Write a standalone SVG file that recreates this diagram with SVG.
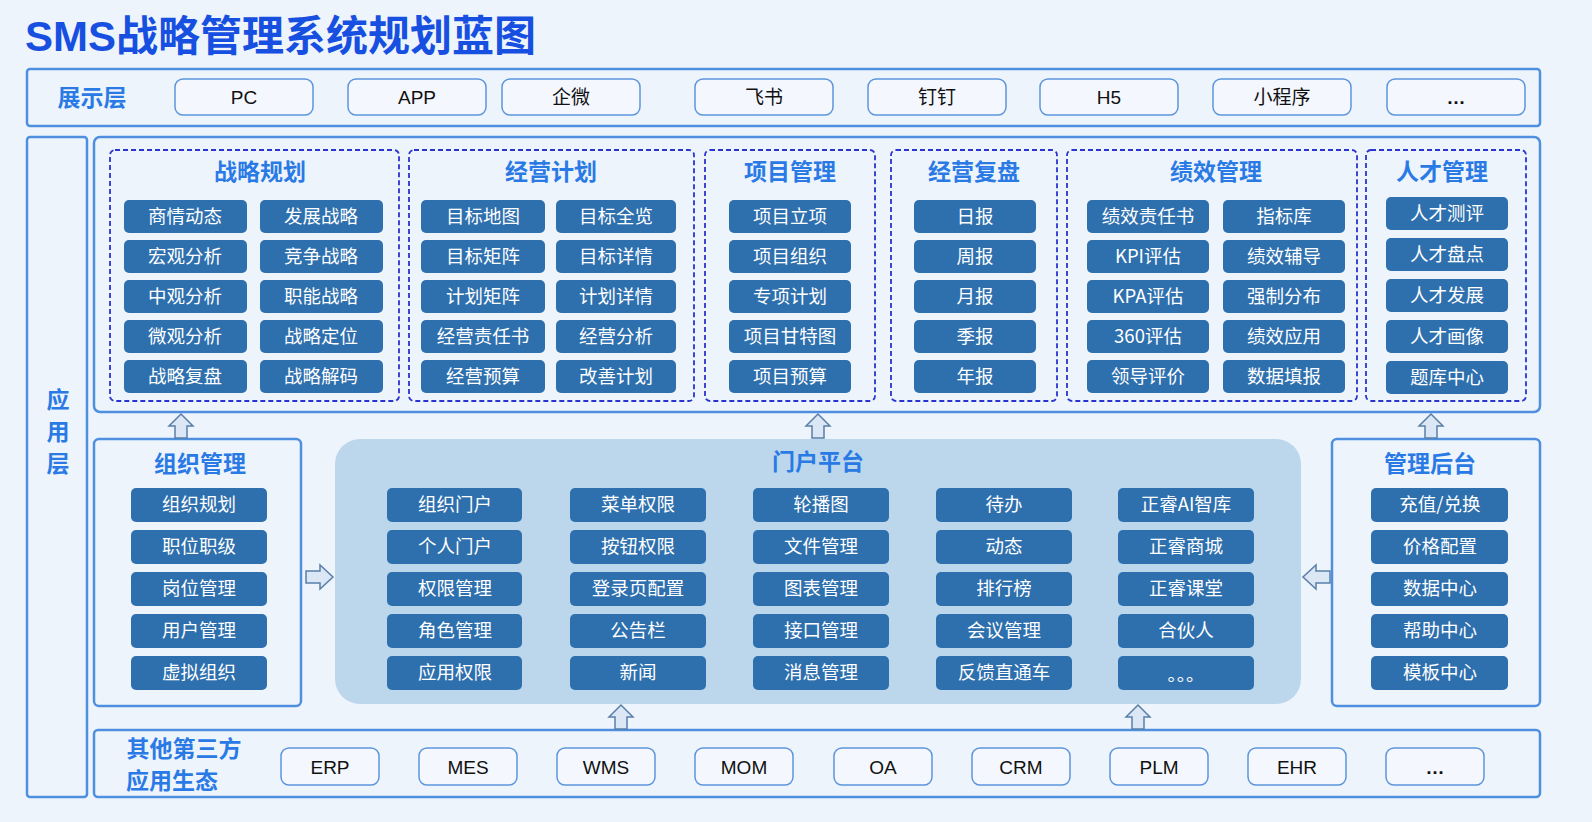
<svg xmlns="http://www.w3.org/2000/svg" width="1592" height="822" viewBox="0 0 1592 822">
<style>
text{font-family:"Noto Sans CJK SC","Liberation Sans",sans-serif}
.frame{fill:none;stroke:#4f8fe0;stroke-width:2.5}
.pill{fill:#f4f8fe;stroke:#5b95dc;stroke-width:1.5}
.pt{font-size:19px;fill:#111;text-anchor:middle;font-family:"Liberation Sans","Noto Sans CJK SC",sans-serif}
.dash{fill:none;stroke:#2a35d0;stroke-width:1.8;stroke-dasharray:5 3}
.gt{font-size:23px;font-weight:bold;fill:#2a7ae6;text-anchor:middle}
.it{fill:#2e6fae}
.itt{font-size:18.5px;fill:#fff;text-anchor:middle}
.arr{fill:#dbe7f5;stroke:#5a7fa8;stroke-width:1.5}
</style>
<defs>
<path id="up" d="M-6,12 V0 H-12 L0,-12 L12,0 H6 V12 Z" class="arr"/>
<path id="right" d="M-14,-6 H0 V-12 L13,0 L0,12 V6 H-14 Z" class="arr"/>
</defs>
<rect width="1592" height="822" fill="#eef4fc"/>
<text x="25" y="51" font-size="42" font-weight="bold" fill="#1750e0" style="font-family:'Liberation Sans','Noto Sans CJK SC',sans-serif">SMS战略管理系统规划蓝图</text>

<g id="display-layer">
<rect x="27" y="69" width="1513" height="57" rx="3" class="frame"/>
<text x="92" y="106" font-size="23" font-weight="bold" fill="#2a7ae6" text-anchor="middle">展示层</text>
<g transform="translate(0,79)">
<rect x="175" width="138" height="36" rx="8" class="pill"/><text x="244" y="25" class="pt">PC</text>
<rect x="348" width="138" height="36" rx="8" class="pill"/><text x="417" y="25" class="pt">APP</text>
<rect x="502" width="138" height="36" rx="8" class="pill"/><text x="571" y="25" class="pt">企微</text>
<rect x="695" width="138" height="36" rx="8" class="pill"/><text x="764" y="25" class="pt">飞书</text>
<rect x="868" width="138" height="36" rx="8" class="pill"/><text x="937" y="25" class="pt">钉钉</text>
<rect x="1040" width="138" height="36" rx="8" class="pill"/><text x="1109" y="25" class="pt">H5</text>
<rect x="1213" width="138" height="36" rx="8" class="pill"/><text x="1282" y="25" class="pt">小程序</text>
<rect x="1387" width="138" height="36" rx="8" class="pill"/><text x="1456" y="25" class="pt" font-weight="bold">…</text>
</g>
</g>

<g id="app-layer">
<rect x="27" y="137" width="60" height="660" rx="3" class="frame"/>
<text x="58" y="408" font-size="23" font-weight="bold" fill="#2a7ae6" text-anchor="middle">应</text>
<text x="58" y="440" font-size="23" font-weight="bold" fill="#2a7ae6" text-anchor="middle">用</text>
<text x="58" y="472" font-size="23" font-weight="bold" fill="#2a7ae6" text-anchor="middle">层</text>
<rect x="94" y="137" width="1446" height="275" rx="6" class="frame"/>
</g>

<g id="strategy">
<rect x="110" y="150" width="289" height="251" rx="5" class="dash"/>
<text x="260" y="180" class="gt">战略规划</text>
<g class="it">
<rect x="124" y="200" width="123" height="33" rx="5"/><rect x="260" y="200" width="123" height="33" rx="5"/>
<rect x="124" y="240" width="123" height="33" rx="5"/><rect x="260" y="240" width="123" height="33" rx="5"/>
<rect x="124" y="280" width="123" height="33" rx="5"/><rect x="260" y="280" width="123" height="33" rx="5"/>
<rect x="124" y="320" width="123" height="33" rx="5"/><rect x="260" y="320" width="123" height="33" rx="5"/>
<rect x="124" y="360" width="123" height="33" rx="5"/><rect x="260" y="360" width="123" height="33" rx="5"/>
</g>
<text class="itt" x="185" y="223">商情动态</text><text class="itt" x="321" y="223">发展战略</text>
<text class="itt" x="185" y="263">宏观分析</text><text class="itt" x="321" y="263">竞争战略</text>
<text class="itt" x="185" y="303">中观分析</text><text class="itt" x="321" y="303">职能战略</text>
<text class="itt" x="185" y="343">微观分析</text><text class="itt" x="321" y="343">战略定位</text>
<text class="itt" x="185" y="383">战略复盘</text><text class="itt" x="321" y="383">战略解码</text>
</g>

<g id="business-plan">
<rect x="409" y="150" width="285" height="251" rx="5" class="dash"/>
<text x="551" y="180" class="gt">经营计划</text>
<g class="it">
<rect x="421" y="200" width="124" height="33" rx="5"/><rect x="556" y="200" width="120" height="33" rx="5"/>
<rect x="421" y="240" width="124" height="33" rx="5"/><rect x="556" y="240" width="120" height="33" rx="5"/>
<rect x="421" y="280" width="124" height="33" rx="5"/><rect x="556" y="280" width="120" height="33" rx="5"/>
<rect x="421" y="320" width="124" height="33" rx="5"/><rect x="556" y="320" width="120" height="33" rx="5"/>
<rect x="421" y="360" width="124" height="33" rx="5"/><rect x="556" y="360" width="120" height="33" rx="5"/>
</g>
<text class="itt" x="483" y="223">目标地图</text><text class="itt" x="616" y="223">目标全览</text>
<text class="itt" x="483" y="263">目标矩阵</text><text class="itt" x="616" y="263">目标详情</text>
<text class="itt" x="483" y="303">计划矩阵</text><text class="itt" x="616" y="303">计划详情</text>
<text class="itt" x="483" y="343">经营责任书</text><text class="itt" x="616" y="343">经营分析</text>
<text class="itt" x="483" y="383">经营预算</text><text class="itt" x="616" y="383">改善计划</text>
</g>

<g id="project">
<rect x="705" y="150" width="170" height="251" rx="5" class="dash"/>
<text x="790" y="180" class="gt">项目管理</text>
<g class="it">
<rect x="729" y="200" width="122" height="33" rx="5"/><rect x="729" y="240" width="122" height="33" rx="5"/>
<rect x="729" y="280" width="122" height="33" rx="5"/><rect x="729" y="320" width="122" height="33" rx="5"/>
<rect x="729" y="360" width="122" height="33" rx="5"/>
</g>
<text class="itt" x="790" y="223">项目立项</text><text class="itt" x="790" y="263">项目组织</text>
<text class="itt" x="790" y="303">专项计划</text><text class="itt" x="790" y="343">项目甘特图</text>
<text class="itt" x="790" y="383">项目预算</text>
</g>

<g id="review">
<rect x="891" y="150" width="166" height="251" rx="5" class="dash"/>
<text x="974" y="180" class="gt">经营复盘</text>
<g class="it">
<rect x="914" y="200" width="122" height="33" rx="5"/><rect x="914" y="240" width="122" height="33" rx="5"/>
<rect x="914" y="280" width="122" height="33" rx="5"/><rect x="914" y="320" width="122" height="33" rx="5"/>
<rect x="914" y="360" width="122" height="33" rx="5"/>
</g>
<text class="itt" x="975" y="223">日报</text><text class="itt" x="975" y="263">周报</text>
<text class="itt" x="975" y="303">月报</text><text class="itt" x="975" y="343">季报</text>
<text class="itt" x="975" y="383">年报</text>
</g>

<g id="performance">
<rect x="1067" y="150" width="290" height="251" rx="5" class="dash"/>
<text x="1216" y="180" class="gt">绩效管理</text>
<g class="it">
<rect x="1087" y="200" width="122" height="33" rx="5"/><rect x="1223" y="200" width="122" height="33" rx="5"/>
<rect x="1087" y="240" width="122" height="33" rx="5"/><rect x="1223" y="240" width="122" height="33" rx="5"/>
<rect x="1087" y="280" width="122" height="33" rx="5"/><rect x="1223" y="280" width="122" height="33" rx="5"/>
<rect x="1087" y="320" width="122" height="33" rx="5"/><rect x="1223" y="320" width="122" height="33" rx="5"/>
<rect x="1087" y="360" width="122" height="33" rx="5"/><rect x="1223" y="360" width="122" height="33" rx="5"/>
</g>
<text class="itt" x="1148" y="223">绩效责任书</text><text class="itt" x="1284" y="223">指标库</text>
<text class="itt" x="1148" y="263">KPI评估</text><text class="itt" x="1284" y="263">绩效辅导</text>
<text class="itt" x="1148" y="303">KPA评估</text><text class="itt" x="1284" y="303">强制分布</text>
<text class="itt" x="1148" y="343">360评估</text><text class="itt" x="1284" y="343">绩效应用</text>
<text class="itt" x="1148" y="383">领导评价</text><text class="itt" x="1284" y="383">数据填报</text>
</g>

<g id="talent">
<rect x="1366" y="150" width="160" height="251" rx="5" class="dash"/>
<text x="1442" y="180" class="gt">人才管理</text>
<g class="it">
<rect x="1386" y="197" width="122" height="33" rx="5"/><rect x="1386" y="238" width="122" height="33" rx="5"/>
<rect x="1386" y="279" width="122" height="33" rx="5"/><rect x="1386" y="320" width="122" height="33" rx="5"/>
<rect x="1386" y="361" width="122" height="33" rx="5"/>
</g>
<text class="itt" x="1447" y="220">人才测评</text><text class="itt" x="1447" y="261">人才盘点</text>
<text class="itt" x="1447" y="302">人才发展</text><text class="itt" x="1447" y="343">人才画像</text>
<text class="itt" x="1447" y="384">题库中心</text>
</g>

<g id="org">
<rect x="94" y="439" width="207" height="267" rx="5" class="frame"/>
<text x="200" y="472" class="gt">组织管理</text>
<g class="it">
<rect x="131" y="488" width="136" height="34" rx="5"/><rect x="131" y="530" width="136" height="34" rx="5"/>
<rect x="131" y="572" width="136" height="34" rx="5"/><rect x="131" y="614" width="136" height="34" rx="5"/>
<rect x="131" y="656" width="136" height="34" rx="5"/>
</g>
<text class="itt" x="199" y="511">组织规划</text><text class="itt" x="199" y="553">职位职级</text>
<text class="itt" x="199" y="595">岗位管理</text><text class="itt" x="199" y="637">用户管理</text>
<text class="itt" x="199" y="679">虚拟组织</text>
</g>

<g id="portal">
<rect x="335" y="439" width="966" height="265" rx="25" fill="#bcd6ec"/>
<text x="818" y="470" class="gt">门户平台</text>
<g class="it">
<rect x="387" y="488" width="135" height="34" rx="5"/><rect x="570" y="488" width="136" height="34" rx="5"/><rect x="753" y="488" width="136" height="34" rx="5"/><rect x="936" y="488" width="136" height="34" rx="5"/><rect x="1118" y="488" width="136" height="34" rx="5"/>
<rect x="387" y="530" width="135" height="34" rx="5"/><rect x="570" y="530" width="136" height="34" rx="5"/><rect x="753" y="530" width="136" height="34" rx="5"/><rect x="936" y="530" width="136" height="34" rx="5"/><rect x="1118" y="530" width="136" height="34" rx="5"/>
<rect x="387" y="572" width="135" height="34" rx="5"/><rect x="570" y="572" width="136" height="34" rx="5"/><rect x="753" y="572" width="136" height="34" rx="5"/><rect x="936" y="572" width="136" height="34" rx="5"/><rect x="1118" y="572" width="136" height="34" rx="5"/>
<rect x="387" y="614" width="135" height="34" rx="5"/><rect x="570" y="614" width="136" height="34" rx="5"/><rect x="753" y="614" width="136" height="34" rx="5"/><rect x="936" y="614" width="136" height="34" rx="5"/><rect x="1118" y="614" width="136" height="34" rx="5"/>
<rect x="387" y="656" width="135" height="34" rx="5"/><rect x="570" y="656" width="136" height="34" rx="5"/><rect x="753" y="656" width="136" height="34" rx="5"/><rect x="936" y="656" width="136" height="34" rx="5"/><rect x="1118" y="656" width="136" height="34" rx="5"/>
</g>
<text class="itt" x="455" y="511">组织门户</text><text class="itt" x="638" y="511">菜单权限</text><text class="itt" x="821" y="511">轮播图</text><text class="itt" x="1004" y="511">待办</text><text class="itt" x="1186" y="511">正睿AI智库</text>
<text class="itt" x="455" y="553">个人门户</text><text class="itt" x="638" y="553">按钮权限</text><text class="itt" x="821" y="553">文件管理</text><text class="itt" x="1004" y="553">动态</text><text class="itt" x="1186" y="553">正睿商城</text>
<text class="itt" x="455" y="595">权限管理</text><text class="itt" x="638" y="595">登录页配置</text><text class="itt" x="821" y="595">图表管理</text><text class="itt" x="1004" y="595">排行榜</text><text class="itt" x="1186" y="595">正睿课堂</text>
<text class="itt" x="455" y="637">角色管理</text><text class="itt" x="638" y="637">公告栏</text><text class="itt" x="821" y="637">接口管理</text><text class="itt" x="1004" y="637">会议管理</text><text class="itt" x="1186" y="637">合伙人</text>
<text class="itt" x="455" y="679">应用权限</text><text class="itt" x="638" y="679">新闻</text><text class="itt" x="821" y="679">消息管理</text><text class="itt" x="1004" y="679">反馈直通车</text><text class="itt" x="1186" y="681" font-size="24">。。。</text>
</g>

<g id="admin">
<rect x="1332" y="439" width="208" height="267" rx="5" class="frame"/>
<text x="1430" y="472" class="gt">管理后台</text>
<g class="it">
<rect x="1371" y="488" width="137" height="34" rx="5"/><rect x="1371" y="530" width="137" height="34" rx="5"/>
<rect x="1371" y="572" width="137" height="34" rx="5"/><rect x="1371" y="614" width="137" height="34" rx="5"/>
<rect x="1371" y="656" width="137" height="34" rx="5"/>
</g>
<text class="itt" x="1440" y="511">充值/兑换</text><text class="itt" x="1440" y="553">价格配置</text>
<text class="itt" x="1440" y="595">数据中心</text><text class="itt" x="1440" y="637">帮助中心</text>
<text class="itt" x="1440" y="679">模板中心</text>
</g>

<g id="third-party">
<rect x="94" y="730" width="1446" height="67" rx="4" class="frame"/>
<text x="184" y="757" font-size="23" font-weight="bold" fill="#2a7ae6" text-anchor="middle">其他第三方</text>
<text x="172" y="789" font-size="23" font-weight="bold" fill="#2a7ae6" text-anchor="middle">应用生态</text>
<g transform="translate(0,748)">
<rect x="281" width="98" height="37" rx="8" class="pill"/><text x="330" y="26" class="pt">ERP</text>
<rect x="419" width="98" height="37" rx="8" class="pill"/><text x="468" y="26" class="pt">MES</text>
<rect x="557" width="98" height="37" rx="8" class="pill"/><text x="606" y="26" class="pt">WMS</text>
<rect x="695" width="98" height="37" rx="8" class="pill"/><text x="744" y="26" class="pt">MOM</text>
<rect x="834" width="98" height="37" rx="8" class="pill"/><text x="883" y="26" class="pt">OA</text>
<rect x="972" width="98" height="37" rx="8" class="pill"/><text x="1021" y="26" class="pt">CRM</text>
<rect x="1110" width="98" height="37" rx="8" class="pill"/><text x="1159" y="26" class="pt">PLM</text>
<rect x="1248" width="98" height="37" rx="8" class="pill"/><text x="1297" y="26" class="pt">EHR</text>
<rect x="1386" width="98" height="37" rx="8" class="pill"/><text x="1435" y="26" class="pt" font-weight="bold">…</text>
</g>
</g>

<g id="connectors">
<use href="#up" x="181" y="426"/>
<use href="#up" x="818" y="426"/>
<use href="#up" x="1431" y="426"/>
<use href="#right" x="320" y="577"/>
<use href="#right" transform="translate(1316,577) scale(-1,1)"/>
<use href="#up" x="621" y="717"/>
<use href="#up" x="1138" y="717"/>
</g>
</svg>
